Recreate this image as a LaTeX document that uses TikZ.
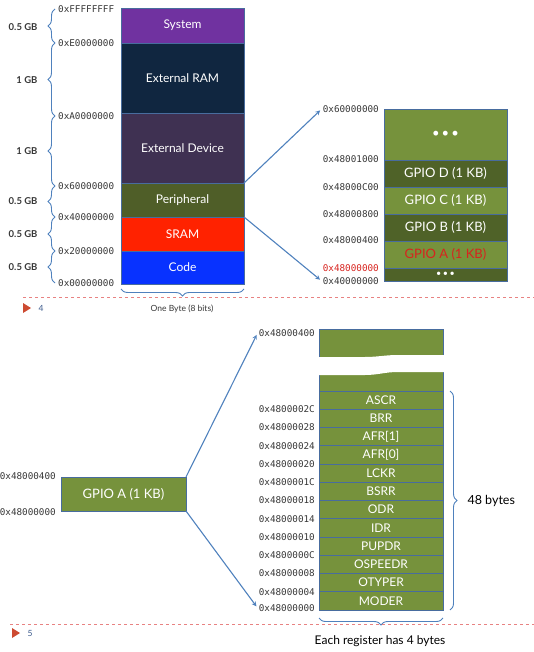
\documentclass[tikz,border=0pt]{standalone}
\usepackage{fontspec}
\setmainfont{Lato}
\setmonofont{DejaVu Sans Mono}
\usetikzlibrary{positioning,decorations.pathreplacing}

\definecolor{sysc}{RGB}{112,50,160}
\definecolor{eramc}{RGB}{16,38,64}
\definecolor{edevc}{RGB}{63,49,82}
\definecolor{peric}{RGB}{79,94,40}
\definecolor{sramc}{RGB}{255,34,0}
\definecolor{codec}{RGB}{8,50,255}
\definecolor{olvl}{RGB}{118,146,60}
\definecolor{olvd}{RGB}{79,98,40}
\definecolor{edgec}{RGB}{72,108,158}
\definecolor{arrc}{RGB}{79,129,189}
\definecolor{addrc}{RGB}{55,55,55}
\definecolor{redc}{RGB}{215,35,30}
\definecolor{cutc}{RGB}{232,130,130}
\definecolor{trc}{RGB}{205,75,50}
\definecolor{pgc}{RGB}{60,90,140}

\begin{document}
\begin{tikzpicture}[x=1pt,y=-1pt,
  blk/.style={draw=edgec, line width=0.8pt, text=white, minimum width=123pt, inner sep=0pt, outer sep=0pt, font=\fontsize{12}{13}\selectfont},
  gblk/.style={blk, font=\fontsize{13}{14}\selectfont},
  reg/.style={blk, fill=olvl, minimum width=124pt, minimum height=18.25pt, font=\fontsize{12}{13}\selectfont},
  addr/.style={anchor=east, inner sep=1pt, text=addrc, font=\ttfamily\fontsize{9.3}{10}\selectfont},
  gb/.style={anchor=east, text=addrc, font=\bfseries\fontsize{9.5}{10}\selectfont},
  brc/.style={draw=arrc, line width=0.9pt, decorate, decoration={brace, amplitude=7pt}},
  arr/.style={draw=arrc, line width=1.1pt, ->, >=stealth, shorten >=2pt},
  cut/.style={draw=cutc, dashed, line width=0.6pt},
  ]
\useasboundingbox (0,0) rectangle (534,652);

\node[blk, fill=sysc, minimum height=35pt, anchor=north west] (sys) at (121,8) {System};
\node[blk, fill=eramc, minimum height=70pt, below=0pt of sys] (eram) {External RAM};
\node[blk, fill=edevc, minimum height=70pt, below=0pt of eram] (edev) {External Device};
\node[blk, fill=peric, minimum height=34pt, below=0pt of edev] (peri) {Peripheral};
\node[blk, fill=sramc, minimum height=34pt, below=0pt of peri] (sram) {SRAM};
\node[blk, fill=codec, minimum height=33pt, below=0pt of sram] (code) {Code};

\node[addr, anchor=west] (aF) at (57,9) {0xFFFFFFFF};
\node[addr, anchor=west] (aE) at (57,43) {0xE0000000};
\node[addr, anchor=west] (aA) at (57,116) {0xA0000000};
\node[addr, anchor=west] (a6) at (57,186) {0x60000000};
\node[addr, anchor=west] (a4) at (57,217) {0x40000000};
\node[addr, anchor=west] (a2) at (57,251) {0x20000000};
\node[addr, anchor=west] (a0) at (57,283) {0x00000000};

\draw[brc] ([xshift=-2pt]aE.west) -- ([xshift=-2pt]aF.west);
\draw[brc] ([xshift=-2pt]aA.west) -- ([xshift=-2pt]aE.west);
\draw[brc] ([xshift=-2pt]a6.west) -- ([xshift=-2pt]aA.west);
\draw[brc] ([xshift=-2pt]a4.west) -- ([xshift=-2pt]a6.west);
\draw[brc] ([xshift=-2pt]a2.west) -- ([xshift=-2pt]a4.west);
\draw[brc] ([xshift=-2pt]a0.west) -- ([xshift=-2pt]a2.west);

\node[gb] (gbs) at (41,27) {0.5 GB};
\node[gb] (gbr) at (41,80) {1 GB};
\node[gb] (gbd) at (41,151) {1 GB};
\node[gb] (gbp) at (41,201) {0.5 GB};
\node[gb] (gbm) at (41,234) {0.5 GB};
\node[gb] (gbc) at (41,267) {0.5 GB};

\draw[brc, decoration={mirror}] ([yshift=-5pt]code.south west) -- ([yshift=-5pt]code.south east);
\node[text=addrc, font=\fontsize{8.5}{9}\selectfont] (onebyte) at (182,309) {One Byte (8 bits)};

\draw[cut] (23,297) -- (534,297);
\fill[trc] (23,303) -- (31,308) -- (23,313) -- cycle;
\node[text=pgc, font=\fontsize{8.5}{9}\selectfont] (pg4) at (41,308) {4};

\node[gblk, fill=olvl, minimum height=51pt, anchor=north west] (gdots) at (384,109) {\textbullet\,\textbullet\,\textbullet};
\node[gblk, fill=olvd, minimum height=27pt, below=0pt of gdots] (gpiod) {GPIO D (1 KB)};
\node[gblk, fill=olvl, minimum height=27pt, below=0pt of gpiod] (gpioc) {GPIO C (1 KB)};
\node[gblk, fill=olvd, minimum height=27pt, below=0pt of gpioc] (gpiob) {GPIO B (1 KB)};
\node[gblk, fill=olvl, minimum height=27pt, below=0pt of gpiob, text=redc] (gpioa) {GPIO A (1 KB)};
\node[gblk, fill=olvd, minimum height=13pt, below=0pt of gpioa, font=\fontsize{9}{9}\selectfont] (gdots2) {\textbullet\,\textbullet\,\textbullet};

\node[addr] (m60) at (380,109) {0x60000000};
\node[addr] (m1000) at (380,159) {0x48001000};
\node[addr] (m0C00) at (380,187) {0x48000C00};
\node[addr] (m0800) at (380,214) {0x48000800};
\node[addr] (m0400) at (380,240) {0x48000400};
\node[addr, text=redc] (m0000) at (380,268) {0x48000000};
\node[addr] (m40) at (380,281) {0x40000000};

\draw[arr] (peri.north east) -- (m60.west);
\draw[arr] (peri.south east) -- (m40.west);

\node[gblk, fill=olvl, minimum width=125pt, minimum height=34pt, anchor=north west] (gpio) at (61,477) {GPIO A (1 KB)};
\node[addr] (g400) at (57,476) {0x48000400};
\node[addr] (g000) at (57,512) {0x48000000};

\node[blk, fill=olvl, minimum width=124pt, minimum height=62pt, anchor=north west] (regtop) at (319,329) {};
\fill[white] (318,357) -- (365,357) .. controls (378,357) and (385,355) .. (398,355) -- (444,355)
  -- (444,372) -- (398,372) .. controls (385,372) and (378,375) .. (365,375) -- (318,375) -- cycle;
\node[reg, below=0pt of regtop] (ascr) {ASCR};
\node[reg, below=0pt of ascr] (brr) {BRR};
\node[reg, below=0pt of brr] (afr1) {AFR[1]};
\node[reg, below=0pt of afr1] (afr0) {AFR[0]};
\node[reg, below=0pt of afr0] (lckr) {LCKR};
\node[reg, below=0pt of lckr] (bsrr) {BSRR};
\node[reg, below=0pt of bsrr] (odr) {ODR};
\node[reg, below=0pt of odr] (idr) {IDR};
\node[reg, below=0pt of idr] (pupdr) {PUPDR};
\node[reg, below=0pt of pupdr] (ospeedr) {OSPEEDR};
\node[reg, below=0pt of ospeedr] (otyper) {OTYPER};
\node[reg, below=0pt of otyper] (moder) {MODER};

\node[addr] (r400) at ([xshift=-3pt,yshift=-4pt]regtop.north west) {0x48000400};
\node[addr] (r2c) at ([xshift=-3pt]ascr.south west) {0x4800002C};
\node[addr] (r28) at ([xshift=-3pt]brr.south west) {0x48000028};
\node[addr] (r24) at ([xshift=-3pt]afr1.south west) {0x48000024};
\node[addr] (r20) at ([xshift=-3pt]afr0.south west) {0x48000020};
\node[addr] (r1c) at ([xshift=-3pt]lckr.south west) {0x4800001C};
\node[addr] (r18) at ([xshift=-3pt]bsrr.south west) {0x48000018};
\node[addr] (r14) at ([xshift=-3pt]odr.south west) {0x48000014};
\node[addr] (r10) at ([xshift=-3pt]idr.south west) {0x48000010};
\node[addr] (r0c) at ([xshift=-3pt]pupdr.south west) {0x4800000C};
\node[addr] (r08) at ([xshift=-3pt]ospeedr.south west) {0x48000008};
\node[addr] (r04) at ([xshift=-3pt]otyper.south west) {0x48000004};
\node[addr] (r00) at ([xshift=-3pt,yshift=2pt]moder.south west) {0x48000000};

\draw[arr] (gpio.north east) -- (r400.west);
\draw[arr] (gpio.south east) -- (r00.west);

\draw[brc] ([xshift=7pt]ascr.north east) -- ([xshift=7pt]moder.south east);
\node[anchor=west, text=black, font=\fontsize{12.5}{13}\selectfont] (b48) at (464,501) {48 bytes};

\draw[brc, decoration={mirror}] ([yshift=-8pt]moder.south west) -- ([yshift=-8pt]moder.south east);
\node[text=black, font=\fontsize{12}{13}\selectfont] (each) at (380,641) {Each register has 4 bytes};

\draw[cut] (10,624) -- (534,624);
\fill[trc] (12,628) -- (20,633) -- (12,638) -- cycle;
\node[text=pgc, font=\fontsize{8.5}{9}\selectfont] (pg5) at (30,633) {5};
\end{tikzpicture}
\end{document}
